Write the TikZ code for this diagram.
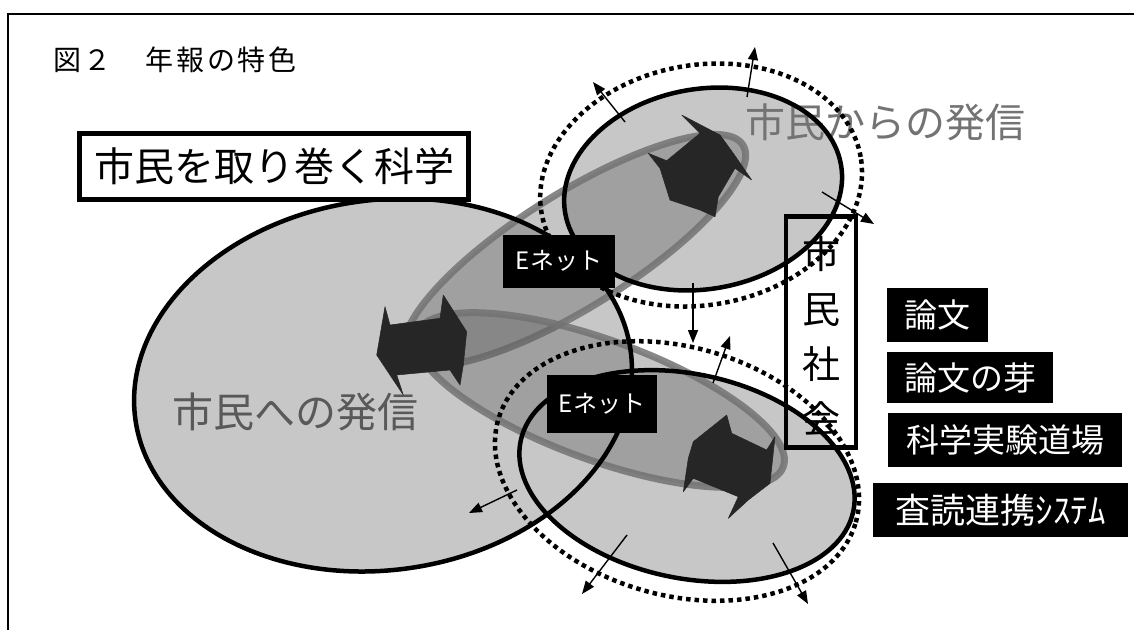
\documentclass[tikz,border=0pt]{standalone}
\usepackage{fontspec}
\newfontfamily\jp{Noto Sans CJK JP}
\newfontfamily\jptitle{Noto Sans CJK JP}[LetterSpace=10]
\usetikzlibrary{arrows.meta}
\begin{document}
\begin{tikzpicture}[x=1pt,y=-1pt,
  lightfill/.style={fill=black!22},
  rim/.style={draw=black, line width=4.5pt},
  dotrim/.style={draw=black, line width=4.5pt, dash pattern=on 4.5pt off 4pt},
  band/.style={draw=black!55, line width=7pt, draw opacity=.85, fill=black!65, fill opacity=.35},
  blockarrow/.style={fill=black!85, draw=black!85, line width=.5pt, line join=round},
  thinarrow/.style={draw=black, line width=1.4pt, -{Triangle[length=13pt,width=10pt]}},
  tag/.style={fill=black, text=white, inner sep=0pt},
  sidetag/.style={tag, minimum height=54pt, font=\jp\fontsize{33}{33}\selectfont},
  enet/.style={tag, font=\jp\fontsize{24}{24}\selectfont},
]
\useasboundingbox (0,0) rectangle (1134,630);
\fill[white] (0,0) rectangle (1134,630);
\draw[line width=1.5pt] (8,630) -- (8,14) -- (1134,14);

% centres
\coordinate (bigc) at (383,385);
\coordinate (upc) at (703,189);
\coordinate (upd) at (701,185);
\coordinate (loc) at (687,476);
\coordinate (lod) at (677,471);
\coordinate (bac) at (575,250);
\coordinate (bbc) at (600,400);

% fills
\fill[lightfill, rotate around={8:(bigc)}] (bigc) ellipse [x radius=250pt, y radius=185pt];
\fill[lightfill, rotate around={10:(upc)}] (upc) ellipse [x radius=140pt, y radius=100pt];
\fill[lightfill, rotate around={-12:(loc)}] (loc) ellipse [x radius=170pt, y radius=102pt];

% bands
\path[band, rotate around={32:(bac)}] (bac) ellipse [x radius=198pt, y radius=57pt];
\path[band, rotate around={-20:(bbc)}] (bbc) ellipse [x radius=195pt, y radius=60pt];

% grey texts
\node[text=black!65, font=\jp\fontsize{41}{41}\selectfont, anchor=west, inner sep=0pt] (tocit) at (172,412) {市民への発信};
\node[text=black!55, font=\jp\fontsize{40}{40}\selectfont, anchor=west, inner sep=0pt] (fromcit) at (745,122) {市民からの発信};

% civil society box
\node[draw, line width=4.5pt, minimum width=70pt, minimum height=231pt, inner sep=0pt] (shakai) at (821,332) {};
\node[font=\jp\fontsize{38}{55}\selectfont, align=center, inner sep=0pt] (shakaitext) at (821,337) {市\\民\\社\\会};

% borders
\draw[rim, rotate around={8:(bigc)}] (bigc) ellipse [x radius=250pt, y radius=185pt];
\draw[rim, rotate around={10:(upc)}] (upc) ellipse [x radius=140pt, y radius=100pt];
\draw[rim, rotate around={-12:(loc)}] (loc) ellipse [x radius=170pt, y radius=102pt];
\draw[dotrim, rotate around={10:(upd)}] (upd) ellipse [x radius=162pt, y radius=120pt];
\draw[dotrim, rotate around={-16:(lod)}] (lod) ellipse [x radius=186pt, y radius=124pt];

% block arrows
\path[blockarrow] (681.7,115) -- (720,135) -- (733.3,153.3) -- (751.7,180) -- (735,168.3)
  -- (718.3,196.7) -- (715,216.7) -- (700,210) -- (670,200) -- (660,168.3) -- (648.3,153.3)
  -- (666.7,160.7) -- (700,133.3) -- cycle;
\path[blockarrow] (385,306.7) -- (390,325) -- (440,318.3) -- (443.3,295) -- (466.7,331.7)
  -- (463.3,365) -- (460,385) -- (450,370) -- (396.7,375) -- (403.3,395) -- (376.7,355) -- cycle;
\path[blockarrow] (693.3,441.7) -- (726.7,415) -- (731.7,433.3) -- (766.7,450) -- (775,436.7)
  -- (770,483.3) -- (748.3,500) -- (728.3,518.3) -- (738.3,496.7) -- (693.3,478.3)
  -- (683.3,491.7) -- (688.3,458.3) -- cycle;

% E-net labels
\node[enet, minimum width=112pt, minimum height=53pt] (enet1) at (559,261) {Eネット};
\node[enet, minimum width=110pt, minimum height=58pt] (enet2) at (602,404) {Eネット};

% thin arrows
\coordinate (u1s) at (625,122); \coordinate (u1e) at (593,82);
\coordinate (u2s) at (747,97);  \coordinate (u2e) at (755,47);
\coordinate (u3s) at (822,192); \coordinate (u3e) at (874,224);
\coordinate (u4s) at (693,283); \coordinate (u4e) at (693,343);
\coordinate (l1s) at (713,383); \coordinate (l1e) at (730,336);
\coordinate (l2s) at (517,490); \coordinate (l2e) at (469,513);
\coordinate (l3s) at (627,535); \coordinate (l3e) at (582,594);
\coordinate (l4s) at (773,543); \coordinate (l4e) at (808,604);
\foreach \a in {u1,u2,u3,u4,l1,l2,l3,l4}{
  \draw[thinarrow] (\a s) -- (\a e);
}

% top box and title
\node[draw, line width=5pt, fill=white, minimum width=389pt, minimum height=66pt, inner sep=0pt,
  font=\jp\fontsize{40}{40}\selectfont] (science) at (274,166) {市民を取り巻く科学};
\node[font=\jptitle\fontsize{28}{28}\selectfont, anchor=west, inner sep=0pt] (title) at (53,60) {図２　年報の特色};

% right labels
\node[sidetag, minimum width=101pt] (ronbun) at (937.5,315) {論文};
\node[sidetag, minimum width=166pt, minimum height=51pt] (me) at (970,377.5) {論文の芽};
\node[sidetag, minimum width=234pt] (dojo) at (1005,440) {科学実験道場};
\node[sidetag, minimum width=255pt, font=\jp\fontsize{35}{35}\selectfont] (sadoku) at (1000.5,510) {査読連携ｼｽﾃﾑ};
\end{tikzpicture}
\end{document}
